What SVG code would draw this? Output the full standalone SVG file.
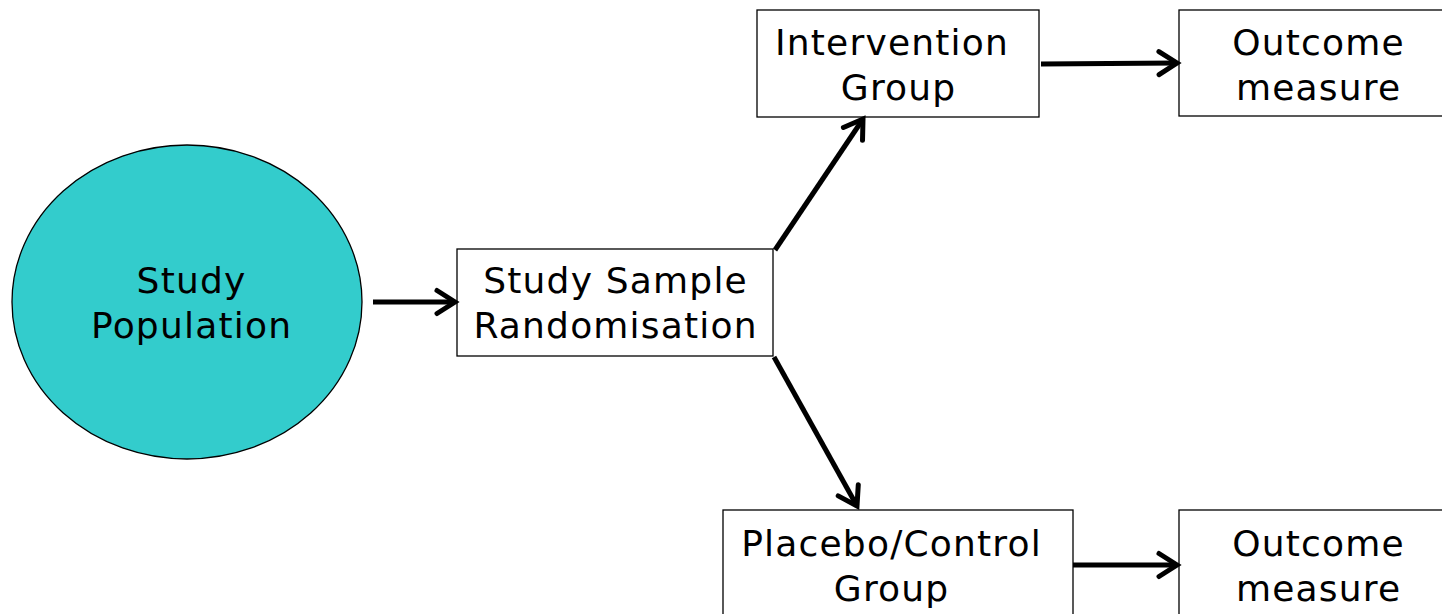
<svg xmlns="http://www.w3.org/2000/svg" width="1442" height="614" viewBox="0 0 1442 614">
  <style>
    .box { fill: #ffffff; stroke: #000000; stroke-width: 1.3; }
    .pop { fill: #33cccc; stroke: #000000; stroke-width: 1.3; }
    .label { font-family: "DejaVu Sans", Verdana, sans-serif; font-size: 36px; letter-spacing: 1.2px; fill: #000000; text-anchor: middle; }
    .link { stroke: #000000; stroke-width: 5; fill: none; marker-end: url(#chevron); }
  </style>
  <defs>
    <!-- open chevron arrowhead, same stroke weight as the connector line -->
    <marker id="chevron" markerUnits="userSpaceOnUse" viewBox="0 0 30 30" refX="24" refY="15" markerWidth="30" markerHeight="30" orient="auto">
      <polyline points="6,3.5 24,15 6,26.5" fill="none" stroke="#000000" stroke-width="5" stroke-linecap="round" stroke-linejoin="miter"/>
    </marker>
  </defs>

  <g id="study-population">
    <ellipse class="pop" cx="187" cy="302" rx="175" ry="157"/>
    <text class="label" x="191.6" y="293">Study</text>
    <text class="label" x="191.6" y="338">Population</text>
  </g>

  <g id="study-sample">
    <rect class="box" x="457" y="249" width="316" height="107"/>
    <text class="label" x="615.6" y="293">Study Sample</text>
    <text class="label" x="615.6" y="338">Randomisation</text>
  </g>

  <g id="intervention-group">
    <rect class="box" x="757" y="10" width="282" height="107"/>
    <text class="label" x="892" y="55">Intervention</text>
    <text class="label" x="898.6" y="100">Group</text>
  </g>

  <g id="outcome-top">
    <rect class="box" x="1179" y="10" width="270" height="106"/>
    <text class="label" x="1318.6" y="55">Outcome</text>
    <text class="label" x="1318.6" y="100">measure</text>
  </g>

  <g id="placebo-group">
    <rect class="box" x="723" y="510" width="350" height="120"/>
    <text class="label" x="891.6" y="556">Placebo/Control</text>
    <text class="label" x="891.6" y="601">Group</text>
  </g>

  <g id="outcome-bottom">
    <rect class="box" x="1179" y="510" width="270" height="120"/>
    <text class="label" x="1318.6" y="556">Outcome</text>
    <text class="label" x="1318.6" y="601">measure</text>
  </g>

  <g id="connectors">
    <line class="link" x1="373" y1="302" x2="455" y2="302"/>
    <line class="link" x1="775" y1="250" x2="863" y2="119"/>
    <line class="link" x1="774" y1="357" x2="857" y2="506"/>
    <line class="link" x1="1041" y1="64" x2="1177" y2="63"/>
    <line class="link" x1="1073" y1="565" x2="1177" y2="565"/>
  </g>
</svg>
